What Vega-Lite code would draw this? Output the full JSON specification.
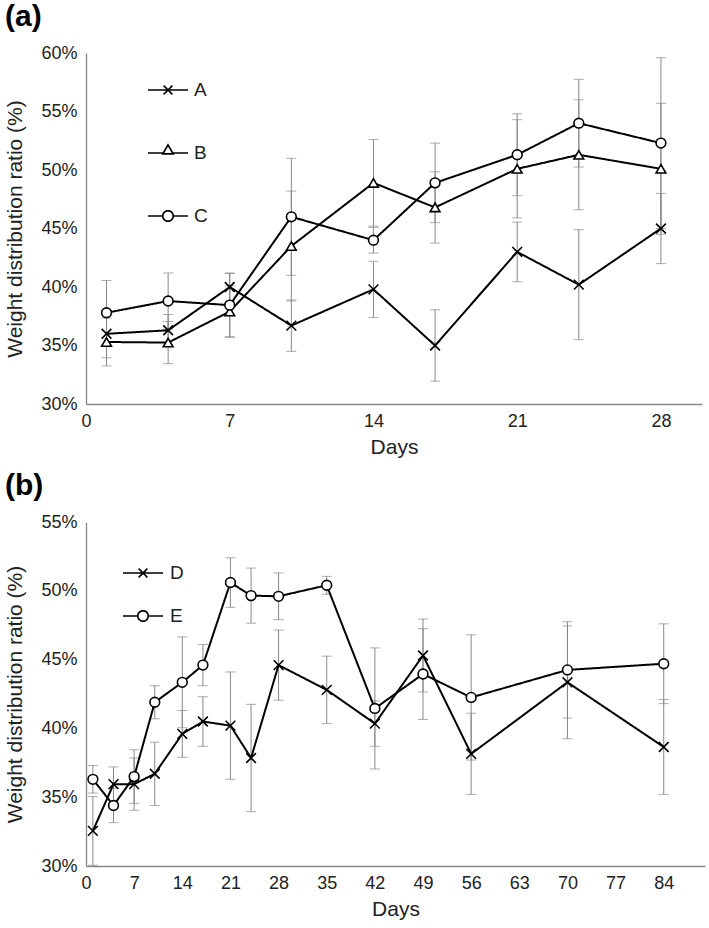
{
  "$schema": "https://vega.github.io/schema/vega-lite/v6.json",
  "background": "white",
  "padding": {"left": 4, "top": 2, "right": 4, "bottom": 4},
  "spacing": 14,
  "resolve": {"scale": {"shape": "independent", "strokeDash": "independent"}, "legend": {"shape": "independent", "strokeDash": "independent"}},
  "datasets": {
    "a": [
      {"day": 1, "s": "A", "v": 36.0, "e": 2.05},
      {"day": 4, "s": "A", "v": 36.3, "e": 1.35},
      {"day": 7, "s": "A", "v": 40.0, "e": 1.2},
      {"day": 10, "s": "A", "v": 36.7, "e": 2.2},
      {"day": 14, "s": "A", "v": 39.8, "e": 2.4},
      {"day": 17, "s": "A", "v": 35.0, "e": 3.05},
      {"day": 21, "s": "A", "v": 43.0, "e": 2.55},
      {"day": 24, "s": "A", "v": 40.2, "e": 4.7},
      {"day": 28, "s": "A", "v": 45.0, "e": 3.0},
      {"day": 1, "s": "B", "v": 35.3, "e": 2.05},
      {"day": 4, "s": "B", "v": 35.25, "e": 1.8},
      {"day": 7, "s": "B", "v": 37.9, "e": 2.2},
      {"day": 10, "s": "B", "v": 43.5, "e": 4.7},
      {"day": 14, "s": "B", "v": 48.9, "e": 3.7},
      {"day": 17, "s": "B", "v": 46.8, "e": 3.05},
      {"day": 21, "s": "B", "v": 50.1, "e": 4.2},
      {"day": 24, "s": "B", "v": 51.3, "e": 4.7},
      {"day": 28, "s": "B", "v": 50.1, "e": 5.6},
      {"day": 1, "s": "C", "v": 37.8, "e": 2.75},
      {"day": 4, "s": "C", "v": 38.8, "e": 2.4},
      {"day": 7, "s": "C", "v": 38.45, "e": 2.7},
      {"day": 10, "s": "C", "v": 46.0, "e": 5.0},
      {"day": 14, "s": "C", "v": 44.0, "e": 1.1},
      {"day": 17, "s": "C", "v": 48.9, "e": 3.4},
      {"day": 21, "s": "C", "v": 51.3, "e": 3.5},
      {"day": 24, "s": "C", "v": 54.0, "e": 3.75},
      {"day": 28, "s": "C", "v": 52.3, "e": 7.3}
    ],
    "b": [
      {"day": 1, "s": "D", "v": 32.55, "e": 2.5},
      {"day": 4, "s": "D", "v": 35.95, "e": 1.25},
      {"day": 7, "s": "D", "v": 35.95, "e": 1.9},
      {"day": 10, "s": "D", "v": 36.7, "e": 2.3},
      {"day": 14, "s": "D", "v": 39.6, "e": 1.7},
      {"day": 17, "s": "D", "v": 40.5, "e": 1.8},
      {"day": 21, "s": "D", "v": 40.2, "e": 3.9},
      {"day": 24, "s": "D", "v": 37.85, "e": 3.9},
      {"day": 28, "s": "D", "v": 44.6, "e": 2.55},
      {"day": 35, "s": "D", "v": 42.8, "e": 2.45},
      {"day": 42, "s": "D", "v": 40.35, "e": 1.65},
      {"day": 49, "s": "D", "v": 45.3, "e": 2.65},
      {"day": 56, "s": "D", "v": 38.15, "e": 2.95},
      {"day": 70, "s": "D", "v": 43.35, "e": 4.1},
      {"day": 84, "s": "D", "v": 38.65, "e": 3.45},
      {"day": 1, "s": "E", "v": 36.3, "e": 1.0},
      {"day": 4, "s": "E", "v": 34.4, "e": 1.25},
      {"day": 7, "s": "E", "v": 36.5, "e": 1.95},
      {"day": 10, "s": "E", "v": 41.9, "e": 1.2},
      {"day": 14, "s": "E", "v": 43.35, "e": 3.3},
      {"day": 17, "s": "E", "v": 44.6, "e": 1.5},
      {"day": 21, "s": "E", "v": 50.6, "e": 1.8},
      {"day": 24, "s": "E", "v": 49.65, "e": 2.0},
      {"day": 28, "s": "E", "v": 49.6, "e": 1.7},
      {"day": 35, "s": "E", "v": 50.4, "e": 0.65},
      {"day": 42, "s": "E", "v": 41.45, "e": 4.4},
      {"day": 49, "s": "E", "v": 43.95, "e": 3.3},
      {"day": 56, "s": "E", "v": 42.25, "e": 4.55},
      {"day": 70, "s": "E", "v": 44.25, "e": 3.5},
      {"day": 84, "s": "E", "v": 44.7, "e": 2.9}
    ]
  },
  "vconcat": [
    {
      "title": {"text": "(a)", "anchor": "start", "frame": "bounds", "fontSize": 30, "fontWeight": "bold", "font": "Liberation Sans", "color": "#000", "offset": 12},
      "width": 616,
      "height": 351,
      "data": {"name": "a"},
      "encoding": {
        "x": {"field": "day", "type": "quantitative", "title": "Days",
              "scale": {"domain": [0, 30], "nice": false, "zero": false},
              "axis": {"values": [0, 7, 14, 21, 28]}},
        "y": {"field": "v", "type": "quantitative", "title": "Weight distribution ratio (%)",
              "scale": {"domain": [30, 60], "nice": false, "zero": false},
              "axis": {"values": [30, 35, 40, 45, 50, 55, 60], "labelExpr": "datum.value + '%'"}}
      },
      "layer": [
        {
          "mark": {"type": "errorbar", "color": "#888", "thickness": 1, "ticks": {"size": 10, "thickness": 1, "color": "#888"}},
          "encoding": {"yError": {"field": "e"}, "detail": {"field": "s"}}
        },
        {
          "mark": {"type": "line", "color": "black", "strokeWidth": 2},
          "encoding": {
            "strokeDash": {"field": "s", "type": "nominal",
              "scale": {"domain": ["A", "B", "C"], "range": [[1, 0], [1, 0], [1, 0]]},
              "legend": {
                "orient": "none", "legendX": 61, "legendY": 16, "title": null, "padding": 0,
                "direction": "vertical", "symbolSize": 1600, "rowPadding": 32,
                "labelFont": "Liberation Sans", "labelFontSize": 19, "labelColor": "#222", "labelOffset": 5,
                "encoding": {"symbols": {
                  "shape": {"value": {"signal": "datum.value === 'A' ? 'M-1,0H1M-0.22,-0.22L0.22,0.22M-0.22,0.22L0.22,-0.22' : datum.value === 'B' ? 'M-1,0H-0.26M0.26,0H1M-0.26,0.04L0,-0.4L0.26,0.04Z' : 'M-1,0H-0.26M0.26,0H1M-0.26,0A0.26,0.26,0,1,1,0.26,0A0.26,0.26,0,1,1,-0.26,0Z'"}},
                  "fill": {"value": "white"}, "stroke": {"value": "black"}, "strokeWidth": {"value": 1.7}, "opacity": {"value": 1}
                }}
              }}
          }
        },
        {
          "mark": {"type": "point", "filled": true, "fill": "white", "stroke": "black", "strokeWidth": 1.6, "size": 95, "opacity": 1},
          "encoding": {
            "shape": {"field": "s", "type": "nominal",
              "scale": {"range": ["M-1,-1L1,1M-1,1L1,-1", "triangle-up", "circle"]},
              "legend": null}
          }
        }
      ]
    },
    {
      "title": {"text": "(b)", "anchor": "start", "frame": "bounds", "fontSize": 30, "fontWeight": "bold", "font": "Liberation Sans", "color": "#000", "offset": 12},
      "width": 619,
      "height": 344,
      "data": {"name": "b"},
      "encoding": {
        "x": {"field": "day", "type": "quantitative", "title": "Days",
              "scale": {"domain": [0, 90], "nice": false, "zero": false},
              "axis": {"values": [0, 7, 14, 21, 28, 35, 42, 49, 56, 63, 70, 77, 84]}},
        "y": {"field": "v", "type": "quantitative", "title": "Weight distribution ratio (%)",
              "scale": {"domain": [30, 55], "nice": false, "zero": false},
              "axis": {"values": [30, 35, 40, 45, 50, 55], "labelExpr": "datum.value + '%'"}}
      },
      "layer": [
        {
          "mark": {"type": "errorbar", "color": "#888", "thickness": 1, "ticks": {"size": 10, "thickness": 1, "color": "#888"}},
          "encoding": {"yError": {"field": "e"}, "detail": {"field": "s"}}
        },
        {
          "mark": {"type": "line", "color": "black", "strokeWidth": 2},
          "encoding": {
            "strokeDash": {"field": "s", "type": "nominal",
              "scale": {"domain": ["D", "E"], "range": [[1, 0], [1, 0]]},
              "legend": {
                "orient": "none", "legendX": 36, "legendY": 30, "title": null, "padding": 0,
                "direction": "vertical", "symbolSize": 1600, "rowPadding": 12,
                "labelFont": "Liberation Sans", "labelFontSize": 19, "labelColor": "#222", "labelOffset": 6,
                "encoding": {"symbols": {
                  "shape": {"value": {"signal": "datum.value === 'D' ? 'M-1,0H1M-0.22,-0.22L0.22,0.22M-0.22,0.22L0.22,-0.22' : 'M-1,0H-0.26M0.26,0H1M-0.26,0A0.26,0.26,0,1,1,0.26,0A0.26,0.26,0,1,1,-0.26,0Z'"}},
                  "fill": {"value": "white"}, "stroke": {"value": "black"}, "strokeWidth": {"value": 1.7}, "opacity": {"value": 1}
                }}
              }}
          }
        },
        {
          "mark": {"type": "point", "filled": true, "fill": "white", "stroke": "black", "strokeWidth": 1.6, "size": 95, "opacity": 1},
          "encoding": {
            "shape": {"field": "s", "type": "nominal",
              "scale": {"range": ["M-1,-1L1,1M-1,1L1,-1", "circle"]},
              "legend": null}
          }
        }
      ]
    }
  ],
  "config": {
    "view": {"stroke": null},
    "axis": {
      "domainColor": "#888", "domainWidth": 1.3, "ticks": false, "tickSize": 0, "grid": false,
      "labelFont": "Liberation Sans", "labelFontSize": 18, "labelColor": "#222",
      "labelFlush": false, "labelOverlap": false, "labelBound": false,
      "titleFont": "Liberation Sans", "titleFontSize": 21, "titleFontWeight": "normal", "titleColor": "#222"
    },
    "axisX": {"labelPadding": 8, "titlePadding": 6},
    "axisY": {"labelPadding": 9, "titlePadding": 15}
  }
}
